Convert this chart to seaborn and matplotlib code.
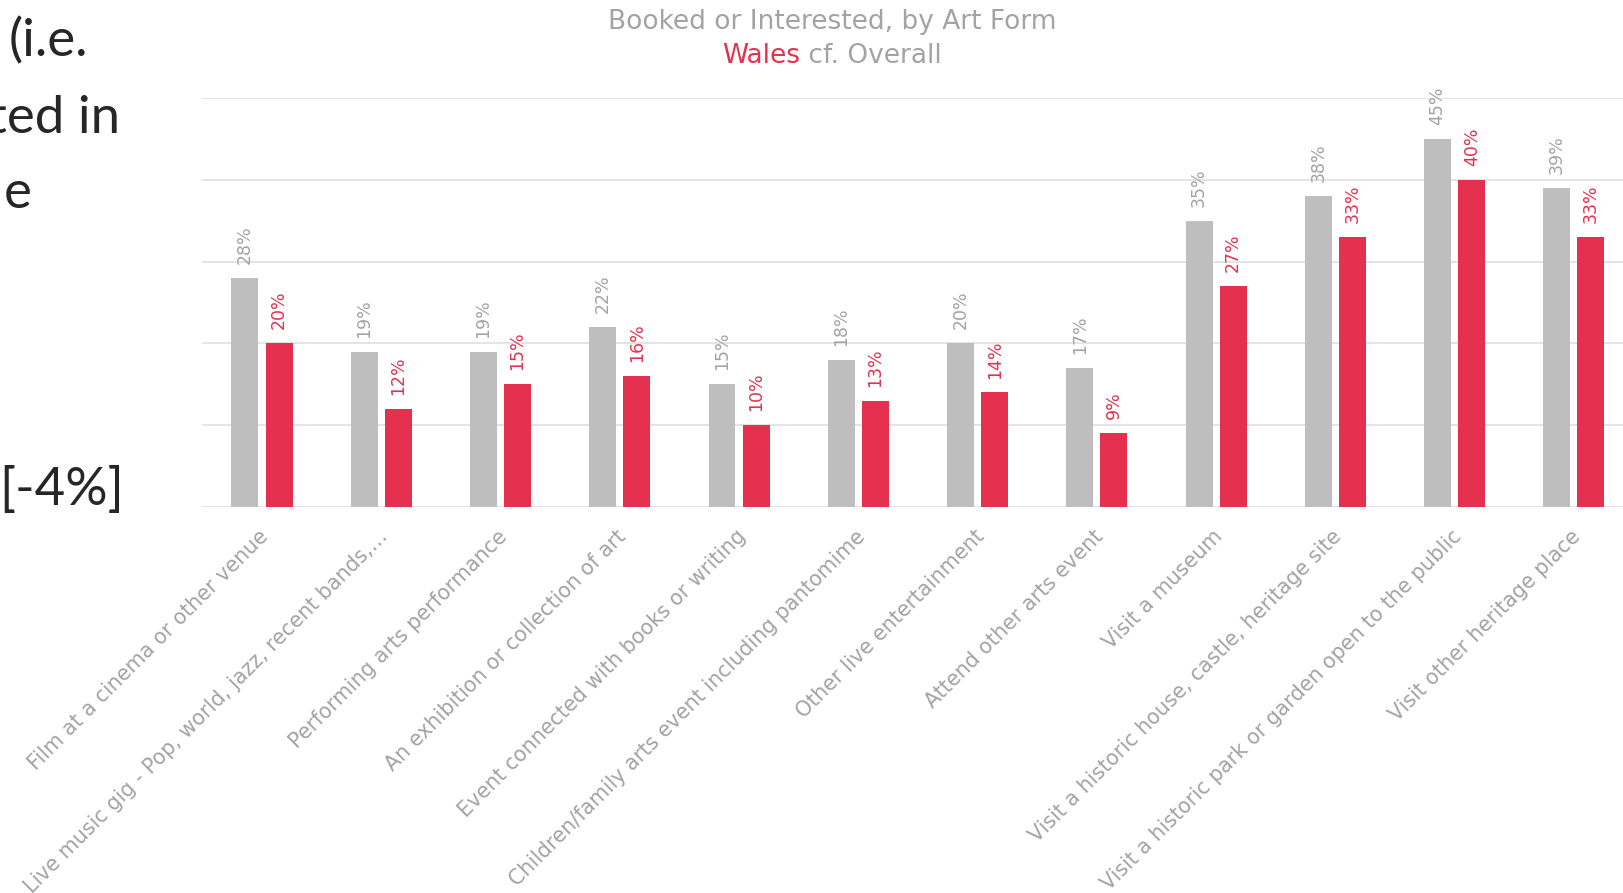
import pandas as pd
import seaborn as sns
import matplotlib.pyplot as plt
from matplotlib.transforms import ScaledTranslation

categories = [
    "Film at a cinema or other venue",
    "Live music gig - Pop, world, jazz, recent bands,\u2026",
    "Performing arts performance",
    "An exhibition or collection of art",
    "Event connected with books or writing",
    "Children/family arts event including pantomime",
    "Other live entertainment",
    "Attend other arts event",
    "Visit a museum",
    "Visit a historic house, castle, heritage site",
    "Visit a historic park or garden open to the public",
    "Visit other heritage place",
]
overall = [28, 19, 19, 22, 15, 18, 20, 17, 35, 38, 45, 39]
wales = [20, 12, 15, 16, 10, 13, 14, 9, 27, 33, 40, 33]
series = ["Overall", "Wales"]

GREY_BAR = "#bebebe"
RED = "#e5304f"
GREY_TXT = "#a3a3a3"

df = pd.DataFrame({
    "category": categories * 2,
    "series": [series[0]] * len(categories) + [series[1]] * len(categories),
    "value": overall + wales,
})

sns.set_style("white")
plt.rcParams["font.family"] = ["DejaVu Sans"]

fig = plt.figure(figsize=(16.23, 8.93), dpi=100)
ax = fig.add_axes([0.1247, 0.4323, 0.8818, 0.458])

sns.barplot(data=df, x="category", y="value", hue="series", order=categories,
            hue_order=series, palette=[GREY_BAR, RED], saturation=1,
            width=0.572, gap=0.21, linewidth=0, legend=False, ax=ax)

ax.set_ylim(0, 50)
ax.set_yticks([0, 10, 20, 30, 40, 50])
ax.set_yticklabels([])
ax.yaxis.grid(True, color="#e2e2e2", linewidth=1.3)
ax.set_axisbelow(True)
ax.tick_params(axis="both", length=0)
for s in ax.spines.values():
    s.set_visible(False)
ax.set_xlabel("")
ax.set_ylabel("")

for cont, col in zip(ax.containers, [GREY_TXT, RED]):
    ax.bar_label(cont, labels=[f"{v:.0f}%" for v in cont.datavalues],
                 rotation=90, padding=10, color=col, fontsize=12.5)

ax.set_xticks(range(len(categories)))
ax.set_xticklabels(categories, rotation=45, ha="right", rotation_mode="anchor",
                   color=GREY_TXT, fontsize=14.9)
ax.tick_params(axis="x", pad=14)
shift = ScaledTranslation(-0.035, 0, fig.dpi_scale_trans)
for lab in ax.get_xticklabels():
    lab.set_transform(lab.get_transform() + shift)

# chart title, second line in two colours
fig.text(0.5126, 1 - 22 / 893, "Booked or Interested, by Art Form", color=GREY_TXT,
         fontsize=19, ha="center", va="center")
fig.canvas.draw()
r = fig.canvas.get_renderer()
t_a = fig.text(0, 1 - 56 / 893, "Wales", color=RED, fontsize=19, va="center")
t_b = fig.text(0, 1 - 56 / 893, " cf. Overall", color=GREY_TXT, fontsize=19, va="center")
wa = t_a.get_window_extent(r).width
wb = t_b.get_window_extent(r).width
x0 = 832 - (wa + wb) / 2
t_a.set_x(x0 / 1623)
t_b.set_x((x0 + wa) / 1623)

# clipped slide text on the left
left_txt = [("(i.e.", 88, 56), ("ted in", 120, 133), ("e", 32, 208), ("[-4%]", 124, 505)]
for s, x, y in left_txt:
    fig.text(x / 1623, 1 - y / 893, s, color="#262626", fontsize=38,
             family="Lato", ha="right", va="baseline")

fig.savefig("out.png", dpi=100)
